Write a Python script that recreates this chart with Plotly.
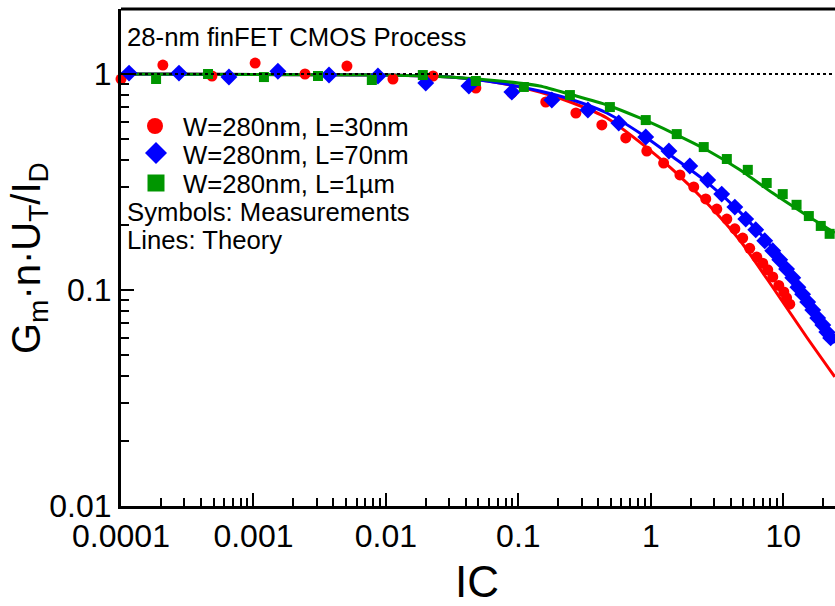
import plotly.graph_objects as go

# ---------------- data ----------------
# Measurements (symbols)
ic_red = [1.0e-4, 2.07e-4, 4.86e-4, 1.03e-3, 2.45e-3, 5.08e-3, 0.0113, 0.0227, 0.0478, 0.0893,
          0.161, 0.272, 0.427, 0.647, 0.933, 1.25, 1.66, 2.11, 2.60, 3.15, 3.75, 4.31, 4.94,
          5.58, 6.31, 7.00, 7.64, 8.33, 9.25, 10.1, 10.6, 11.2]
g_red = [0.948, 1.10, 0.979, 1.124, 1.0, 1.089, 0.948, 0.979, 0.861, 0.817,
         0.742, 0.660, 0.581, 0.506, 0.440, 0.387, 0.341, 0.300, 0.264, 0.237, 0.213, 0.192, 0.174,
         0.156, 0.142, 0.133, 0.124, 0.115, 0.105, 0.098, 0.092, 0.086]

ic_blue = [1.15e-4, 2.74e-4, 6.53e-4, 1.53e-3, 3.72e-3, 8.71e-3, 0.0200, 0.0423, 0.0893, 0.179,
           0.335, 0.573, 0.916, 1.37, 1.97, 2.69, 3.43, 4.31, 5.21, 6.20, 7.25, 8.33, 9.41,
           10.6, 11.8, 12.9, 14.0, 15.3, 16.7, 18.2, 19.9, 21.3, 22.8]
g_blue = [1.01, 1.01, 0.968, 1.03, 0.989, 0.979, 0.908, 0.880, 0.825, 0.758,
          0.681, 0.593, 0.511, 0.440, 0.375, 0.323, 0.278, 0.242, 0.213, 0.190, 0.169, 0.152, 0.138,
          0.125, 0.114, 0.103, 0.0957, 0.088, 0.0808, 0.0742, 0.0689, 0.0639, 0.060]

ic_green = [1.84e-4, 4.54e-4, 1.20e-3, 3.07e-3, 7.83e-3, 0.0190, 0.0478, 0.110, 0.245, 0.491,
            0.916, 1.57, 2.51, 3.75, 5.40, 7.50, 9.91, 12.6, 15.6, 19.2, 22.4]
g_green = [0.948, 1.0, 0.968, 0.979, 0.938, 0.989, 0.928, 0.871, 0.799, 0.703,
           0.612, 0.527, 0.459, 0.404, 0.360, 0.313, 0.278, 0.248, 0.220, 0.198, 0.182]

# Theory (lines)
ic_th = [1.0e-4, 0.00982, 0.0304, 0.0724, 0.145, 0.258, 0.466, 0.826, 1.47, 2.65, 4.70, 8.33, 15.0, 24.5]
th_red = [1.0, 0.989, 0.968, 0.908, 0.825, 0.734, 0.626, 0.484, 0.360, 0.253, 0.170, 0.103, 0.0606, 0.0396]
th_blue = [1.0, 0.989, 0.968, 0.908, 0.834, 0.758, 0.660, 0.533, 0.413, 0.316, 0.230, 0.156, 0.0928, 0.0568]
th_green = [1.0, 0.989, 0.968, 0.928, 0.880, 0.799, 0.719, 0.626, 0.533, 0.445, 0.360, 0.281, 0.222, 0.184]

labels = ["W=280nm, L=30nm", "W=280nm, L=70nm", "W=280nm, L=1µm"]
x_ticks = [1e-4, 1e-3, 1e-2, 1e-1, 1, 10]
x_ticktext = ["0.0001", "0.001", "0.01", "0.1", "1", "10"]
y_ticks = [0.01, 0.1, 1]
y_ticktext = ["0.01", "0.1", "1"]

RED, BLUE, GREEN = "#FF0000", "#0000FF", "#009600"

# ---------------- layout geometry ----------------
W, H = 835, 606
ML, MR, MT, MB = 121, 0, 9, 100
PW, PH = W - ML - MR, H - MT - MB


def xp(px):
    return (px - ML) / PW


def yp(py):
    return (H - MB - py) / PH


fig = go.Figure()

for xs, ys, c in [(ic_th, th_red, RED), (ic_th, th_blue, BLUE), (ic_th, th_green, GREEN)]:
    fig.add_trace(go.Scatter(x=xs, y=ys, mode="lines", line=dict(color=c, width=3, shape="spline", smoothing=0.6),
                             showlegend=False, hoverinfo="skip"))

fig.add_trace(go.Scatter(x=ic_red, y=g_red, mode="markers", cliponaxis=False,
                         marker=dict(symbol="circle", size=11, color=RED, line=dict(width=0)), showlegend=False))
fig.add_trace(go.Scatter(x=ic_blue, y=g_blue, mode="markers", cliponaxis=False,
                         marker=dict(symbol="diamond", size=13, color=BLUE, line=dict(width=0)), showlegend=False))
fig.add_trace(go.Scatter(x=ic_green, y=g_green, mode="markers", cliponaxis=False,
                         marker=dict(symbol="square", size=10, color=GREEN, line=dict(width=0)), showlegend=False))

tick_font = dict(family="Liberation Sans Narrow, Arial Narrow, Liberation Sans, Arial, sans-serif", size=32, color="black")
txt_font = dict(family="Liberation Sans, Arial, sans-serif", size=25.7, color="black")

x_minor = [m * 10 ** e for e in range(-4, 2) for m in range(2, 10)]
y_minor = [m * 10 ** e for e in range(-2, 1) for m in range(2, 10)]

fig.update_xaxes(type="log", range=[-4, 1.3907], tickvals=x_ticks, ticktext=x_ticktext,
                 ticks="inside", ticklen=13, tickwidth=2, tickcolor="black",
                 showline=True, linewidth=3, linecolor="black", showgrid=False, zeroline=False,
                 tickfont=tick_font,
                 minor=dict(tickmode="array", tickvals=x_minor, ticks="inside", ticklen=8, tickwidth=2,
                            tickcolor="black", showgrid=False))
fig.update_yaxes(type="log", range=[-2, 0.301], tickvals=y_ticks, ticktext=y_ticktext,
                 ticks="inside", ticklen=13, tickwidth=2, tickcolor="black",
                 showline=True, linewidth=3, linecolor="black", showgrid=False, zeroline=False,
                 tickfont=tick_font,
                 minor=dict(tickmode="array", tickvals=y_minor, ticks="inside", ticklen=8, tickwidth=2,
                            tickcolor="black", showgrid=False))

shapes = [
    # top frame
    dict(type="line", xref="paper", yref="paper", x0=0, x1=1, y0=1, y1=1, line=dict(color="black", width=3)),
    # reference line at 1
    dict(type="line", xref="paper", yref="y", x0=0, x1=1, y0=1, y1=1, layer="above",
         line=dict(color="black", width=2, dash="3px,3px")),
    # legend glyphs
    dict(type="circle", xref="paper", yref="paper", x0=xp(147), x1=xp(163), y0=yp(134), y1=yp(118),
         fillcolor=RED, line=dict(width=0)),
    dict(type="path", xref="paper", yref="paper",
         path=f"M {xp(145)},{yp(153)} L {xp(156)},{yp(142)} L {xp(167)},{yp(153)} L {xp(156)},{yp(164)} Z",
         fillcolor=BLUE, line=dict(width=0)),
    dict(type="rect", xref="paper", yref="paper", x0=xp(147.5), x1=xp(164.5), y0=yp(191.5), y1=yp(174.5),
         fillcolor=GREEN, line=dict(width=0)),
]

annotations = [
    dict(text="28-nm finFET CMOS Process", x=xp(126), y=yp(37), xanchor="left", yanchor="middle"),
    dict(text=labels[0], x=xp(182), y=yp(127), xanchor="left", yanchor="middle"),
    dict(text=labels[1], x=xp(182), y=yp(155), xanchor="left", yanchor="middle"),
    dict(text=labels[2], x=xp(182), y=yp(184), xanchor="left", yanchor="middle"),
    dict(text="Symbols: Measurements", x=xp(126), y=yp(212), xanchor="left", yanchor="middle"),
    dict(text="Lines: Theory", x=xp(126), y=yp(240), xanchor="left", yanchor="middle"),
]
for a in annotations:
    a.update(xref="paper", yref="paper", showarrow=False, font=txt_font, borderpad=0)

annotations.append(dict(text="G<sub>m</sub>·n·U<sub>T</sub>/I<sub>D</sub>", xref="paper", yref="paper",
                        x=xp(29), y=yp(258), xanchor="center", yanchor="middle", textangle=-90,
                        showarrow=False, font=dict(family="Liberation Sans, Arial, sans-serif", size=40, color="black")))
annotations.append(dict(text="IC", xref="paper", yref="paper", x=xp(477), y=yp(581),
                        xanchor="center", yanchor="middle", showarrow=False, borderpad=0,
                        font=dict(family="Liberation Sans Narrow, Arial Narrow, Liberation Sans, Arial, sans-serif",
                                  size=44, color="black")))

fig.update_layout(width=W, height=H, margin=dict(l=ML, r=MR, t=MT, b=MB, pad=0),
                  paper_bgcolor="white", plot_bgcolor="white", showlegend=False,
                  shapes=shapes, annotations=annotations)

fig.write_html("out.html")
